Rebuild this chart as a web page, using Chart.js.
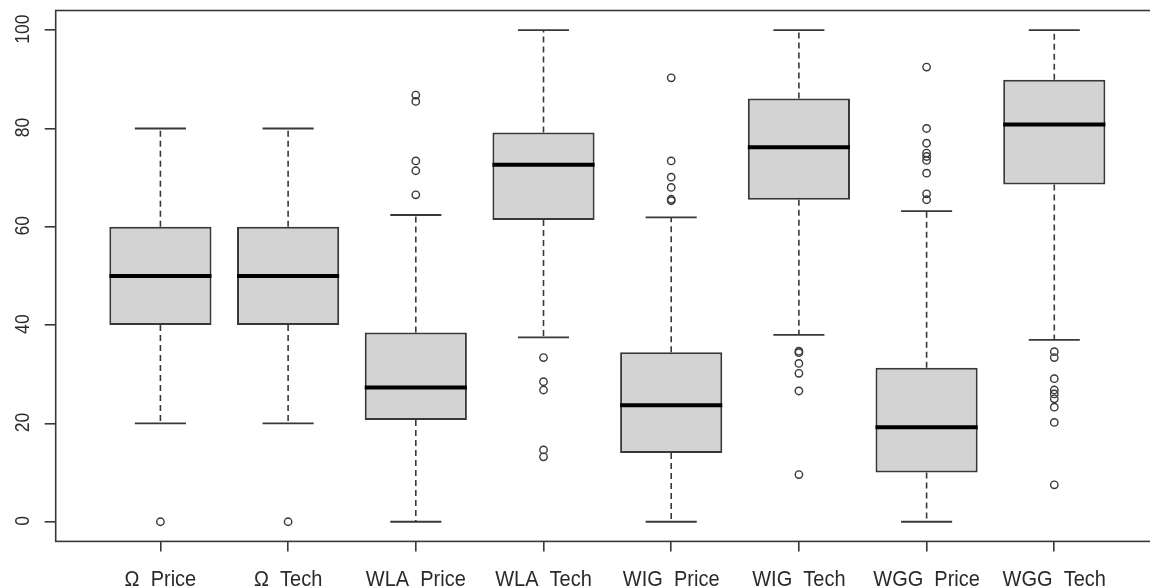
<!DOCTYPE html>
<html>
<head>
<meta charset="utf-8">
<script src="https://cdn.jsdelivr.net/npm/chart.js@4"></script>
<style>
  html, body { margin: 0; padding: 0; background: #fff; overflow: hidden; width: 1150px; height: 587px; }
  #wrap { width: 1172px; height: 587px; position: relative; }
</style>
</head>
<body>
<div id="wrap"><canvas id="c"></canvas></div>
<script>
// Five-number summaries per group, plus the points beyond the whiskers
const categories = ['Ω_Price', 'Ω_Tech', 'WLA_Price', 'WLA_Tech', 'WIG_Price', 'WIG_Tech', 'WGG_Price', 'WGG_Tech'];
const whiskerLow  = [20, 20, 0,    37.5, 0,    38.0, 0,    37.0];
const q1          = [40, 40, 20.7, 61.4, 14.0, 65.5, 10.0, 68.6];
const medians     = [50, 50, 27.3, 72.6, 23.7, 76.2, 19.2, 80.8];
const q3          = [60, 60, 38.5, 79.2, 34.5, 86.1, 31.3, 89.9];
const whiskerHigh = [80, 80, 62.4, 100,  61.9, 100,  63.2, 100];
const outliers = [
  [0],
  [0],
  [86.8, 85.5, 73.4, 71.4, 66.5],
  [33.4, 28.5, 26.8, 14.6, 13.2],
  [90.3, 73.4, 70.1, 68.0, 65.6, 65.3],
  [34.7, 34.4, 32.2, 30.2, 26.6, 9.6],
  [92.5, 80.0, 77.0, 75.0, 74.3, 73.5, 70.9, 66.7, 65.5],
  [34.6, 33.4, 29.1, 26.8, 26.0, 25.0, 23.3, 20.2, 7.5]
];
const yTicks = [0, 20, 40, 60, 80, 100];

const LINE = '#383838';
const FONT = "'Liberation Sans', Arial, sans-serif";

// half-width in pixels of a span given in x units
function halfWidth(ctx, units) {
  const xs = ctx.chart.scales.x;
  if (!xs) return 0;
  return Math.abs(xs.getPixelForValue(1 + units) - xs.getPixelForValue(1));
}

// dashed whisker stems, separated by null gaps
const stems = [];
categories.forEach((_, i) => {
  stems.push({ x: i + 1, y: q3[i] }, { x: i + 1, y: whiskerHigh[i] }, { x: i + 1, y: null });
  stems.push({ x: i + 1, y: q1[i] }, { x: i + 1, y: whiskerLow[i] }, { x: i + 1, y: null });
});
const caps = [];
categories.forEach((_, i) => {
  caps.push({ x: i + 1, y: whiskerHigh[i] }, { x: i + 1, y: whiskerLow[i] });
});
const boxes = categories.map((_, i) => ({ x: i + 1, y: [q1[i], q3[i]] }));
const medianPts = categories.map((_, i) => ({ x: i + 1, y: medians[i] }));
const outlierPts = [];
outliers.forEach((list, i) => list.forEach(v => outlierPts.push({ x: i + 1, y: v })));

// plot frame, rotated y tick labels and the group names under the axis
const framePlugin = {
  id: 'frame',
  afterDraw(chart) {
    const { ctx, chartArea: a, scales } = chart;
    ctx.save();
    ctx.strokeStyle = LINE;
    ctx.lineWidth = 1.6;
    ctx.strokeRect(a.left, a.top, a.right - a.left, a.bottom - a.top);

    ctx.fillStyle = '#2a2a2a';
    ctx.font = '20px ' + FONT;
    ctx.textAlign = 'center';
    ctx.textBaseline = 'alphabetic';
    yTicks.forEach(v => {
      const y = scales.y.getPixelForValue(v);
      ctx.save();
      ctx.translate(28.5, y - 1);
      ctx.rotate(-Math.PI / 2);
      ctx.scale(0.88, 1);
      ctx.fillText(String(v), 0, 0);
      ctx.restore();
    });

    categories.forEach((name, i) => {
      const x = scales.x.getPixelForValue(i + 1);
      ctx.save();
      ctx.translate(x, 586);
      ctx.scale(1, 1.12);
      ctx.fillText(name, 0, 0);
      ctx.restore();
    });
    ctx.restore();
  }
};

new Chart(document.getElementById('c'), {
  data: {
    datasets: [
      {
        type: 'scatter',
        data: outlierPts,
        pointStyle: 'circle',
        pointRadius: 3.7,
        borderWidth: 1.4,
        borderColor: LINE,
        backgroundColor: 'rgba(0,0,0,0)',
        order: 1
      },
      {
        type: 'scatter',
        data: medianPts,
        pointStyle: 'line',
        pointRadius: ctx => halfWidth(ctx, 0.4),
        borderWidth: 4,
        borderColor: '#000',
        order: 2
      },
      {
        type: 'bar',
        data: boxes,
        backgroundColor: '#D3D3D3',
        borderColor: LINE,
        borderWidth: 2,
        borderSkipped: false,
        categoryPercentage: 1,
        barPercentage: 0.8,
        order: 3
      },
      {
        type: 'scatter',
        data: caps,
        pointStyle: 'line',
        pointRadius: ctx => halfWidth(ctx, 0.2),
        borderWidth: 1.8,
        borderColor: LINE,
        order: 4
      },
      {
        type: 'line',
        data: stems,
        borderColor: LINE,
        borderWidth: 1.6,
        borderDash: [6, 4],
        pointRadius: 0,
        spanGaps: false,
        fill: false,
        order: 5
      }
    ]
  },
  options: {
    responsive: true,
    maintainAspectRatio: false,
    animation: false,
    events: [],
    layout: { padding: { top: 10.5, right: 13, left: 0, bottom: 0 } },
    plugins: { legend: { display: false }, tooltip: { enabled: false } },
    scales: {
      x: {
        type: 'linear',
        offset: false,
        min: 0.18,
        max: 8.82,
        afterBuildTicks: s => { s.ticks = categories.map((_, i) => ({ value: i + 1 })); },
        afterFit: s => { s.height = 45.6; },
        grid: { offset: false, drawOnChartArea: false, drawTicks: true, tickLength: 10, color: LINE, lineWidth: 1.6 },
        border: { display: false },
        ticks: { display: false }
      },
      y: {
        type: 'linear',
        min: -4,
        max: 104,
        afterBuildTicks: s => { s.ticks = yTicks.map(v => ({ value: v })); },
        afterFit: s => { s.width = 55.7; },
        grid: { drawOnChartArea: false, drawTicks: true, tickLength: 11, color: LINE, lineWidth: 1.6 },
        border: { display: false },
        ticks: { display: false }
      }
    }
  },
  plugins: [framePlugin]
});
</script>
</body>
</html>
